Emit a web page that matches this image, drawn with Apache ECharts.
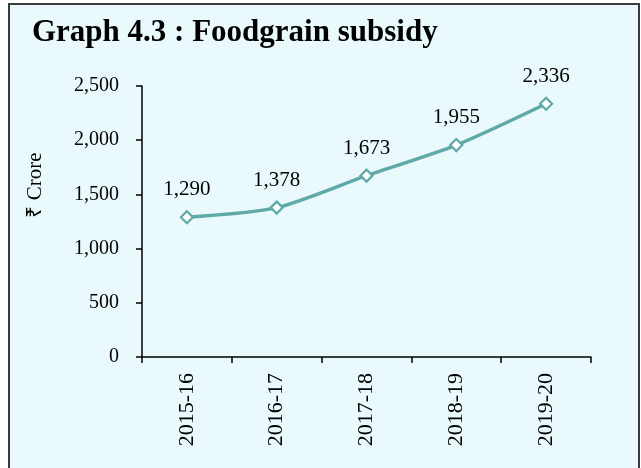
<!DOCTYPE html>
<html>
<head>
<meta charset="utf-8">
<script src="https://cdn.jsdelivr.net/npm/echarts@6/dist/echarts.min.js"></script>
<style>
  html, body { margin: 0; padding: 0; background: #fff; }
  #frame {
    position: absolute; left: 8px; top: 3px; width: 628px; height: 470px;
    border: 2px solid #3a3a3a; background: #EAF9FB;
  }
  #chart { position: absolute; left: 0; top: 0; width: 641px; height: 468px; }
</style>
</head>
<body>
<div id="frame"></div>
<div id="chart"></div>
<script>
// Foodgrain subsidy, Rs crore
var years = ['2015-16', '2016-17', '2017-18', '2018-19', '2019-20']
var subsidy = [1290, 1378, 1673, 1955, 2336]
var yTicks = [0, 500, 1000, 1500, 2000, 2500]
var unitName = '\u20b9 Crore'

var serif = '"Liberation Serif", "Times New Roman", serif'
var chart = echarts.init(document.getElementById('chart'))

chart.setOption({
  backgroundColor: 'transparent',
  animation: false,
  title: {
    text: 'Graph 4.3 : Foodgrain subsidy',
    left: 32,
    top: 17,
    padding: 0,
    textStyle: { fontFamily: serif, fontWeight: 'bold', fontSize: 31, color: '#000' }
  },
  // y axis title sits above the middle of the axis, like the original
  graphic: [{
    type: 'text',
    x: 35,
    y: 185,
    rotation: Math.PI / 2,
    style: {
      text: unitName,
      font: '21px ' + serif,
      fill: '#000',
      textAlign: 'center',
      textVerticalAlign: 'middle'
    }
  }],
  grid: { left: 142, right: 50, top: 86, bottom: 111 },
  xAxis: {
    type: 'category',
    data: years,
    boundaryGap: true,
    axisLine: { lineStyle: { color: '#000', width: 1.5 } },
    axisTick: { show: true, length: 6, lineStyle: { color: '#000', width: 1.5 } },
    axisLabel: { rotate: 90, margin: 16, fontFamily: serif, fontSize: 22, color: '#000' }
  },
  yAxis: {
    type: 'value',
    min: yTicks[0],
    max: yTicks[yTicks.length - 1],
    interval: 500,
    axisLine: { show: true, lineStyle: { color: '#000', width: 1.5 } },
    axisTick: { show: true, length: 6, lineStyle: { color: '#000', width: 1.5 } },
    splitLine: { show: false },
    axisLabel: {
      margin: 23, fontFamily: serif, fontSize: 20, color: '#000',
      formatter: function (v) { return v.toLocaleString('en-US') }
    }
  },
  series: [{
    type: 'line',
    data: subsidy,
    smooth: 0.25,
    symbol: 'diamond',
    symbolSize: 12,
    lineStyle: { color: '#5FA9A9', width: 3.5 },
    itemStyle: { color: '#fff', borderColor: '#5FA9A9', borderWidth: 2.2 },
    label: {
      show: true, position: 'top', distance: 10,
      fontFamily: serif, fontSize: 21, color: '#000',
      formatter: function (p) { return p.value.toLocaleString('en-US') }
    }
  }]
})
</script>
</body>
</html>
